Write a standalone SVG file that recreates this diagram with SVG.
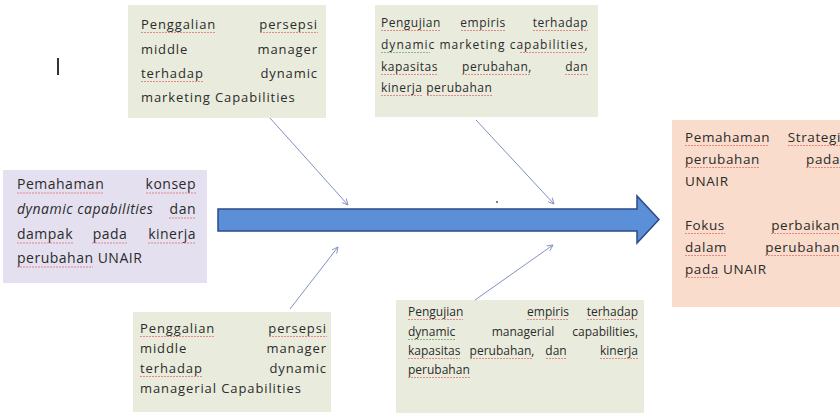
<svg xmlns="http://www.w3.org/2000/svg" width="840" height="418" viewBox="0 0 840 418">
<style>
  text { font-family: "Open Sans", "Liberation Sans", sans-serif; fill: #2b2b2b; }
  .t1 { font-size: 13px; letter-spacing: 0.9px; }
  .t2 { font-size: 12px; letter-spacing: 0.5px; }
  .t3 { font-size: 14px; letter-spacing: 0.5px; }
  .t4 { font-size: 12px; letter-spacing: 0px; }
  .t5 { font-size: 13.5px; letter-spacing: 0.6px; }
  .green { fill: #e9ecdd; }
  .purple { fill: #e4e0f0; }
  .peach { fill: #f9dccb; }
  .conn { stroke: #8191c2; stroke-width: 1; fill: none; marker-end: url(#ah); }
  .end { text-anchor: end; }
  .mid { text-anchor: middle; }
  .sp { stroke: #e06a6a; stroke-width: 1; stroke-opacity: 0.75; fill: none; stroke-dasharray: 2 1; }
  .sg { stroke: #6aa86a; stroke-width: 1; stroke-opacity: 0.75; fill: none; stroke-dasharray: 2 1; }
</style>
<defs>
  <marker id="ah" viewBox="0 0 8 8" refX="7" refY="4" markerWidth="7" markerHeight="7" orient="auto" markerUnits="userSpaceOnUse">
    <path d="M0,0.5 L7,4 L0,7.5" fill="none" stroke="#8191c2" stroke-width="1"/>
  </marker>
</defs>
<rect width="840" height="418" fill="#ffffff"/>

<line x1="58" y1="58" x2="58" y2="75" stroke="#333" stroke-width="2"/>

<g id="box-top-left">
  <rect class="green" x="128" y="5" width="198" height="113"/>
  <text class="t1" y="29"><tspan x="141">Penggalian</tspan><tspan x="318" class="end">persepsi</tspan></text>
  <text class="t1" y="53.5"><tspan x="141">middle</tspan><tspan x="318" class="end">manager</tspan></text>
  <text class="t1" y="78"><tspan x="141">terhadap</tspan><tspan x="318" class="end">dynamic</tspan></text>
  <text class="t1" x="141" y="102">marketing Capabilities</text>
  <path class="sp" d="M141,32.5 H216 M260,32.5 H318 M141,81.5 H203"/>
</g>

<g id="box-top-right">
  <rect class="green" x="375" y="5" width="223" height="112"/>
  <text class="t2" y="27"><tspan x="381">Pengujian</tspan><tspan x="483" class="mid">empiris</tspan><tspan x="588" class="end">terhadap</tspan></text>
  <text class="t2" x="381" y="49" textLength="207" lengthAdjust="spacing">dynamic marketing capabilities,</text>
  <text class="t2" y="71"><tspan x="381">kapasitas</tspan><tspan x="497" class="mid">perubahan,</tspan><tspan x="588" class="end">dan</tspan></text>
  <text class="t2" x="381" y="92">kinerja perubahan</text>
  <path class="sp" d="M381,30.5 H440 M461,30.5 H505 M533,30.5 H588 M520,52.5 H586 M381,74.5 H437 M462,74.5 H531 M565,74.5 H588 M381,95.5 H423 M427,95.5 H493"/>
  <path class="sg" d="M381,52.5 H430"/>
</g>

<g id="box-left">
  <rect class="purple" x="3" y="170" width="204" height="113"/>
  <text class="t3" y="189"><tspan x="17">Pemahaman</tspan><tspan x="196" class="end">konsep</tspan></text>
  <text class="t3" y="214"><tspan x="17" font-style="italic">dynamic capabilities</tspan><tspan x="196" class="end">dan</tspan></text>
  <text class="t3" y="239"><tspan x="17">dampak</tspan><tspan x="110" class="mid">pada</tspan><tspan x="196" class="end">kinerja</tspan></text>
  <text class="t3" x="17" y="263">perubahan UNAIR</text>
  <path class="sp" d="M17,193 H103 M146,193 H196 M169,218 H196 M17,243 H73 M92,243 H128 M148,243 H196 M17,267 H93"/>
</g>

<g id="box-bottom-left">
  <rect class="green" x="133" y="312" width="198" height="100"/>
  <text class="t1" y="333"><tspan x="140">Penggalian</tspan><tspan x="327" class="end">persepsi</tspan></text>
  <text class="t1" y="353"><tspan x="140">middle</tspan><tspan x="327" class="end">manager</tspan></text>
  <text class="t1" y="373"><tspan x="140">terhadap</tspan><tspan x="327" class="end">dynamic</tspan></text>
  <text class="t1" x="140" y="393">managerial Capabilities</text>
  <path class="sp" d="M140,336.5 H215 M269,336.5 H327 M140,376.5 H202"/>
</g>

<g id="box-bottom-right">
  <rect class="green" x="396" y="300" width="248" height="113"/>
  <text class="t4" y="316"><tspan x="408">Pengujian</tspan><tspan x="548" class="mid">empiris</tspan><tspan x="638" class="end">terhadap</tspan></text>
  <text class="t4" y="336"><tspan x="408">dynamic</tspan><tspan x="523" class="mid">managerial</tspan><tspan x="638" class="end">capabilities,</tspan></text>
  <text class="t4" y="355"><tspan x="408">kapasitas</tspan><tspan x="502" class="mid">perubahan,</tspan><tspan x="556" class="mid">dan</tspan><tspan x="638" class="end">kinerja</tspan></text>
  <text class="t4" x="408" y="374">perubahan</text>
  <path class="sp" d="M408,319.5 H463 M527,319.5 H569 M587,319.5 H638 M408,358.5 H460 M470,358.5 H533 M546,358.5 H567 M600,358.5 H638 M408,377.5 H470"/>
  <path class="sg" d="M408,339.5 H455"/>
</g>

<g id="box-right">
  <rect class="peach" x="672" y="120" width="180" height="187"/>
  <text class="t5" y="142"><tspan x="685">Pemahaman</tspan><tspan x="841" class="end">Strategi</tspan></text>
  <text class="t5" y="164"><tspan x="685">perubahan</tspan><tspan x="840" class="end">pada</tspan></text>
  <text class="t5" x="685" y="186">UNAIR</text>
  <text class="t5" y="230"><tspan x="685">Fokus</tspan><tspan x="840" class="end">perbaikan</tspan></text>
  <text class="t5" y="252"><tspan x="685">dalam</tspan><tspan x="840" class="end">perubahan</tspan></text>
  <text class="t5" x="685" y="274">pada UNAIR</text>
  <path class="sp" d="M685,145.5 H769 M788,145.5 H840 M685,167.5 H760 M806,167.5 H840 M685,233.5 H725 M771,233.5 H840 M685,255.5 H727 M765,255.5 H840 M685,277.5 H719"/>
</g>

<g id="main-arrow">
  <path d="M218,209 L637,209 L637,196 L659,219.5 L637,243 L637,231 L218,231 Z" fill="#5b8fd7" stroke="#2c4a88" stroke-width="1.5" stroke-linejoin="miter"/>
</g>

<g id="connectors">
  <line class="conn" x1="270" y1="118" x2="348" y2="205"/>
  <line class="conn" x1="476" y1="120" x2="554" y2="204"/>
  <line class="conn" x1="290" y1="309" x2="338" y2="247"/>
  <line class="conn" x1="475" y1="300" x2="553" y2="245"/>
</g>
<circle cx="497" cy="202" r="1" fill="#555"/>
</svg>
